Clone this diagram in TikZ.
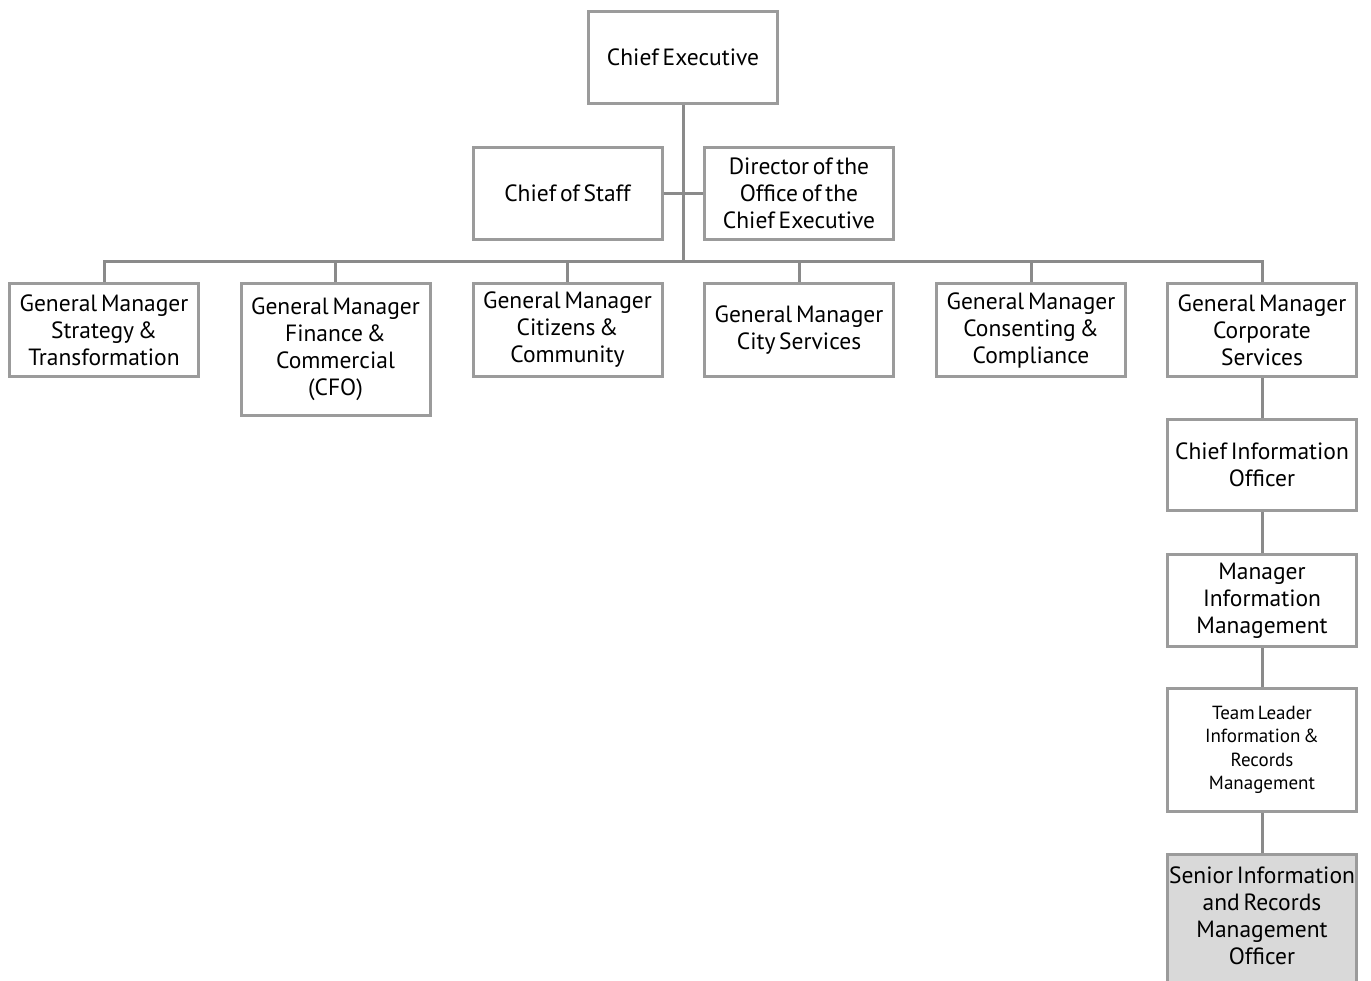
\documentclass[tikz,border=0pt]{standalone}
\usepackage{fontspec}
\setmainfont[WordSpace=0.6]{PT Sans}
\definecolor{linegray}{RGB}{138,138,138}
\definecolor{boxgray}{RGB}{155,155,155}
\definecolor{hilite}{RGB}{217,217,217}
\begin{document}
\begin{tikzpicture}[x=1pt,y=-1pt,
  box/.style={draw=boxgray, line width=3pt, fill=white, minimum width=189pt,
    minimum height=92pt, inner sep=0pt, align=center,
    font=\fontsize{23.5}{27}\selectfont},
  small/.style={font=\fontsize{19}{23.5}\selectfont},
  link/.style={draw=linegray, line width=3pt}]
\useasboundingbox (0,0) rectangle (1371,981);

% top of the chart
\node[box] (ce)  at (683,57.5)   {Chief Executive};
\node[box] (cos) at (567.5,193.5) {Chief of Staff};
\node[box] (dir) at (799,193.5)  {Director of the\\Office of the\\Chief Executive};

% general managers
\node[box, minimum height=93pt] (gm1) at (104,330)   {General Manager\\Strategy \&\\Transformation};
\node[box, minimum height=132pt] (gm2) at (335.5,349.5) {General Manager\\Finance \&\\Commercial\\(CFO)};
\node[box, minimum height=93pt] (gm3) at (567.5,330) {General Manager\\Citizens \&\\Community};
\node[box, minimum height=93pt] (gm4) at (799,330)   {General Manager\\City Services};
\node[box, minimum height=93pt] (gm5) at (1031,330)  {General Manager\\Consenting \&\\Compliance};
\node[box, minimum height=93pt] (gm6) at (1262,330)  {General Manager\\Corporate\\Services};

% corporate services line
\node[box, minimum height=91pt] (cio) at (1262,465)   {Chief Information\\Officer};
\node[box, minimum height=92pt] (mim) at (1262,600.5) {Manager\\Information\\Management};
\node[box, small, minimum height=123pt] (tl) at (1262,750) {Team Leader\\Information \&\\Records\\Management};
\node[box, fill=hilite, minimum height=132pt, text depth=8pt] (sio) at (1262,920) {Senior Information\\and Records\\Management\\Officer};

% connectors
\coordinate (bus) at (683,262);
\draw[link] (ce.south) -- (bus);
\draw[link] (cos.east) -- (dir.west);
\draw[link] (gm1.north) |- (bus) -| (gm6.north);
\foreach \n in {gm2,gm3,gm4,gm5}
  \draw[link] (\n.north) -- (\n.north |- bus);
\draw[link] (gm6.south) -- (cio.north);
\draw[link] (cio.south) -- (mim.north);
\draw[link] (mim.south) -- (tl.north);
\draw[link] (tl.south) -- (sio.north);
\end{tikzpicture}
\end{document}
